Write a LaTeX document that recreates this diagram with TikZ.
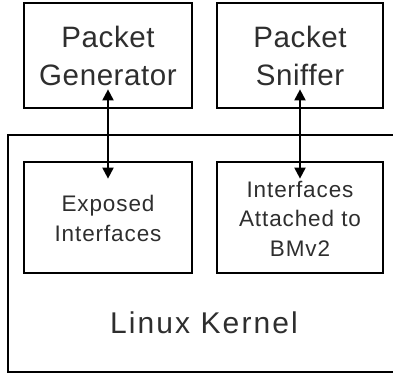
\documentclass[tikz,border=0pt]{standalone}
\usepackage{fontspec}
\setmainfont{Liberation Sans}
\newfontfamily\airyfont[LetterSpace=4]{Liberation Sans}
\newfontfamily\lightairyfont[LetterSpace=2]{Liberation Sans}
\newfontfamily\wideairyfont[LetterSpace=7]{Liberation Sans}
\usetikzlibrary{arrows.meta,calc}
\definecolor{inkgray}{gray}{0.18}
\tikzset{
  box/.style={draw=black, line width=2.7pt, inner sep=0pt},
  bigtext/.style={text=inkgray, font=\lightairyfont\fontsize{29.5}{38}\selectfont, align=center},
  smalltext/.style={text=inkgray, font=\airyfont\fontsize{22.5}{29.5}\selectfont, align=center},
  kerneltext/.style={text=inkgray, font=\wideairyfont\fontsize{30}{36}\selectfont},
  link/.style={line width=2pt, {Triangle[length=11pt,width=11pt]}-{Triangle[length=11pt,width=11pt]}},
}
\begin{document}
\begin{tikzpicture}[x=1pt, y=-1pt]
  \useasboundingbox (0,0) rectangle (393,377);
  \begin{scope}
    \clip (0,0) rectangle (393,377);
    % kernel frame, its right side runs past the edge
    \draw[box] (8,135) rectangle (404,372);
  \end{scope}
  \node (kernel) [kerneltext, anchor=base] at (204,333) {Linux Kernel};

  % user-space programs
  \node (gen) [box, minimum width=168pt, minimum height=105pt] at (108,55.5) {};
  \node [bigtext] at (gen.center) {Packet\\Generator};
  \node (sniff) [box, minimum width=166pt, minimum height=105pt] at (300,55.5) {};
  \node [bigtext] at (sniff.center) {Packet\\Sniffer};

  % kernel interfaces
  \node (exp) [box, minimum width=168pt, minimum height=111pt] at (108,217.5) {};
  \node [smalltext] at ($(exp.center)+(0,1)$) {Exposed\\Interfaces};
  \node (att) [box, minimum width=166pt, minimum height=111pt] at (300,217.5) {};
  \node [smalltext] at ($(att.center)+(0,1)$) {Interfaces\\Attached to\\BMv2};

  % links between the programs and the interfaces
  \draw[link, shorten <=-20pt, shorten >=-18pt] (gen.south) -- (exp.north);
  \draw[link, shorten <=-20pt, shorten >=-18pt] (sniff.south) -- (att.north);
\end{tikzpicture}
\end{document}
